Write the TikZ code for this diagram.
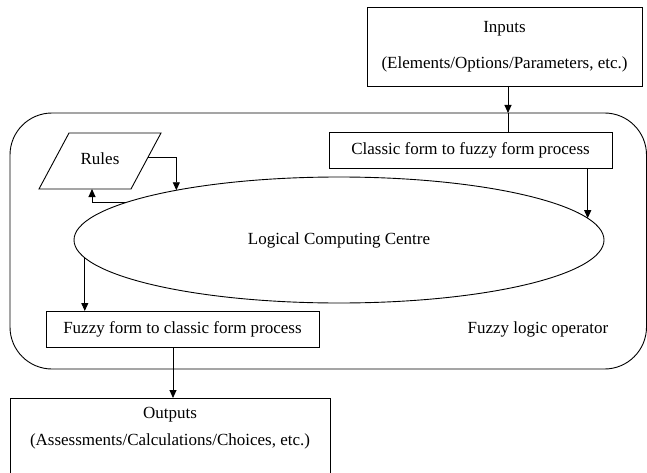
\documentclass[tikz,border=0pt]{standalone}
\usepackage{fontspec}
\setmainfont{Liberation Serif}
\usetikzlibrary{shapes.geometric,arrows.meta,calc}
\begin{document}
\begin{tikzpicture}[x=1pt,y=-1pt,
  font=\fontsize{17}{20}\selectfont,
  line width=0.9pt,
  boxnode/.style={draw, rectangle, inner sep=0pt, outer sep=0pt},
  arr/.style={-{Triangle[length=8pt,width=7pt]}},
  lnk/.style={}]
\useasboundingbox (0,0) rectangle (647,473);
\clip (0,0) rectangle (647,473);
% outer operator frame
\node[boxnode, rounded corners=42pt, minimum width=636.5pt, minimum height=256pt] (flo) at (328.25,241) {};
% inputs
\node[boxnode, minimum width=275pt, minimum height=79pt, align=center] (inp) at (504.5,46.5)
  {Inputs\\[16pt](Elements/Options/Parameters, etc.)};
% classic -> fuzzy
\node[boxnode, minimum width=283pt, minimum height=36pt] (cls) at (470.5,150) {Classic form to fuzzy form process};
% ellipse
\node[draw, ellipse, inner sep=0pt, outer sep=0pt, minimum width=530pt, minimum height=126pt] (lcc) at (339,240) {Logical Computing Centre};
% rules parallelogram
\coordinate (r1) at (69,133);
\coordinate (r2) at (161,133);
\coordinate (r3) at (131,189);
\coordinate (r4) at (39,189);
\draw (r1) -- (r2) -- (r3) -- (r4) -- cycle;
\node (rules) at (100,159) {Rules};
\coordinate (rout) at ($(r2)!0.43!(r3)$);
\coordinate (rin) at (92,189);
% fuzzy -> classic
\node[boxnode, minimum width=273pt, minimum height=36pt] (fzc) at (182.5,329) {Fuzzy form to classic form process};
\node (flotxt) at (538,329) {Fuzzy logic operator};
% outputs
\node[boxnode, minimum width=320pt, minimum height=90pt] (outbox) at (170,443) {};
\node[align=center] (outtxt) at (170,428.5) {Outputs\\[7pt](Assessments/Calculations/Choices, etc.)};
% connectors
\coordinate (inx) at (508,86);
\draw[arr] (inx) -- (inx |- flo.north);
\draw (inx |- flo.north) -- (inx |- cls.north);
\coordinate (c1) at (lcc.5.43);
\draw[arr] (cls.south -| c1) -- (c1);
\coordinate (c2) at (lcc.163.52);
\draw[arr] (rout) -| (c2);
\coordinate (c3) at (lcc.170.14);
\draw[arr] (c3) -| (rin);
\coordinate (c4) at (lcc.184.76);
\draw[arr] (c4) -- (c4 |- fzc.north);
\coordinate (c5) at (173,347);
\draw[arr] (c5) -- (c5 |- outbox.north);
\end{tikzpicture}
\end{document}
